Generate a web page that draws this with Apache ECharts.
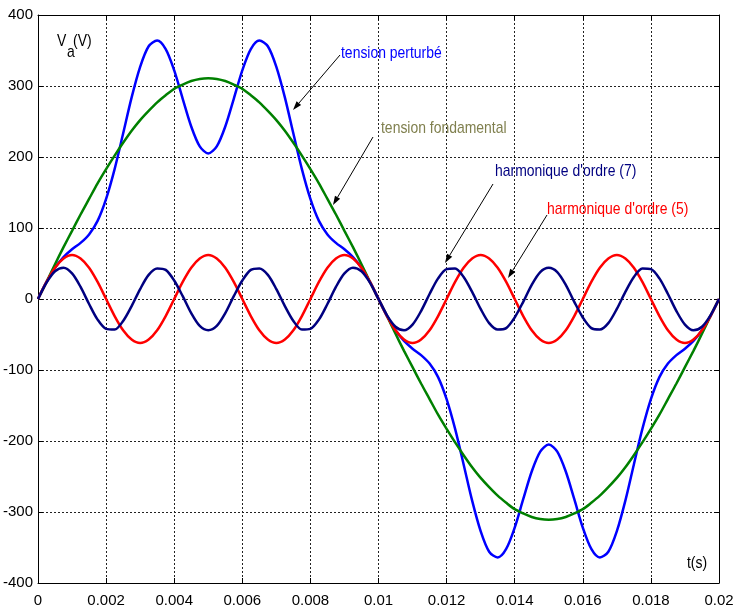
<!DOCTYPE html>
<html>
<head>
    <meta charset="utf-8">
    <title>Tension perturbée et harmoniques</title>
    <script src="https://cdn.jsdelivr.net/npm/echarts@6.0.0/dist/echarts.min.js"></script>
    <style>
        body { margin: 0; background: #fff; }
        #main { width: 733px; height: 610px; }
    </style>
</head>
<body>
    <div id="main"></div>
    <script>
        // pas d'échantillonnage (s)
        var tStep = 0.00025;

        // valeurs (V)
        var perturbed = [0, 24, 44, 59, 70, 79, 91, 110, 141, 183, 233, 284, 327, 356, 364, 352, 322, 282, 243, 215, 205,
            215, 243, 282, 322, 352, 364, 356, 327, 284, 233, 183, 141, 110, 91, 79, 70, 59, 44, 24, 0,
            -24, -44, -59, -70, -79, -91, -110, -141, -183, -233, -284, -327, -356, -364, -352, -322, -282, -243, -215, -205,
            -215, -243, -282, -322, -352, -364, -356, -327, -284, -233, -183, -141, -110, -91, -79, -70, -59, -44, -24, 0];
        var fundamental = [0, 24, 49, 73, 96, 119, 141, 163, 183, 202, 220, 237, 252, 265, 277, 287, 296, 302, 307, 310, 311,
            310, 307, 302, 296, 287, 277, 265, 252, 237, 220, 202, 183, 163, 141, 119, 96, 73, 49, 24, 0,
            -24, -49, -73, -96, -119, -141, -163, -183, -202, -220, -237, -252, -265, -277, -287, -296, -302, -307, -310, -311,
            -310, -307, -302, -296, -287, -277, -265, -252, -237, -220, -202, -183, -163, -141, -119, -96, -73, -49, -24, 0];
        var harm5 = [0, 24, 44, 57, 62, 57, 44, 24, 0, -24, -44, -57, -62, -57, -44, -24,
            0, 24, 44, 57, 62, 57, 44, 24, 0, -24, -44, -57, -62, -57, -44, -24,
            0, 24, 44, 57, 62, 57, 44, 24, 0, -24, -44, -57, -62, -57, -44, -24,
            0, 24, 44, 57, 62, 57, 44, 24, 0, -24, -44, -57, -62, -57, -44, -24,
            0, 24, 44, 57, 62, 57, 44, 24, 0, -24, -44, -57, -62, -57, -44, -24, 0];
        var harm7 = [0, 23, 39, 44, 36, 17, -7, -29, -42, -43, -31, -10, 14, 34, 43, 41, 26, 4, -20, -38, -44,
            -38, -20, 4, 26, 41, 43, 34, 14, -10, -31, -43, -42, -29, -7, 17, 36, 44, 39, 23, 0,
            -23, -39, -44, -36, -17, 7, 29, 42, 43, 31, 10, -14, -34, -43, -41, -26, -4, 20, 38, 44,
            38, 20, -4, -26, -41, -43, -34, -14, 10, 31, 43, 42, 29, 7, -17, -36, -44, -39, -23, 0];

        var xTickLabels = ['0', '0.002', '0.004', '0.006', '0.008', '0.01', '0.012', '0.014', '0.016', '0.018', '0.02'];

        var FONT = "'Liberation Sans', Arial, sans-serif";

        function toPairs(values) {
            return values.map(function (v, i) { return [i * tStep, v]; });
        }

        function arrow(x1, y1, x2, y2) {
            // ligne + pointe pleine (style matlab)
            var ang = Math.atan2(y2 - y1, x2 - x1);
            var len = 9, half = 3;
            var bx = x2 - len * Math.cos(ang), by = y2 - len * Math.sin(ang);
            var px = -Math.sin(ang) * half, py = Math.cos(ang) * half;
            return [
                { type: 'line', shape: { x1: x1, y1: y1, x2: bx, y2: by }, style: { stroke: '#000', lineWidth: 1 }, z: 100 },
                { type: 'polygon', shape: { points: [[x2, y2], [bx + px, by + py], [bx - px, by - py]] }, style: { fill: '#000' }, z: 100 }
            ];
        }

        // texte étroit comme dans la figure d'origine
        function label(text, x, y, color) {
            return { type: 'text', x: x, y: y, z: 100, scaleX: 0.82,
                style: { text: text, fill: color, font: '17px ' + FONT, verticalAlign: 'middle' } };
        }

        var chart = echarts.init(document.getElementById('main'));

        var gridLine = { show: true, lineStyle: { color: '#222', type: [2, 2], width: 1 } };
        var border = { show: true, onZero: false, lineStyle: { color: '#000', width: 1 } };
        var tick = { show: true, inside: true, length: 5, lineStyle: { color: '#000' } };

        var option = {
            animation: false,
            grid: { left: 38, right: 14, top: 15, bottom: 27, outerBoundsMode: 'none' },
            xAxis: [{
                type: 'value', min: 0, max: 0.02, interval: 0.002,
                axisLine: border, axisTick: tick, splitLine: gridLine,
                axisLabel: {
                    color: '#000', fontSize: 15, fontFamily: FONT, margin: 10,
                    formatter: function (v) { return xTickLabels[Math.round(v / 0.002)]; }
                }
            }, {
                type: 'value', min: 0, max: 0.02, interval: 0.002, position: 'top',
                axisLine: border, axisTick: tick,
                splitLine: { show: false }, axisLabel: { show: false }
            }],
            yAxis: [{
                type: 'value', min: -400, max: 400, interval: 100,
                axisLine: border, axisTick: tick, splitLine: gridLine,
                axisLabel: { color: '#000', fontSize: 15, fontFamily: FONT, margin: 5 }
            }, {
                type: 'value', min: -400, max: 400, interval: 100, position: 'right',
                axisLine: border, axisTick: tick,
                splitLine: { show: false }, axisLabel: { show: false }
            }],
            series: [
                { name: 'tension perturbé', type: 'line', data: toPairs(perturbed), smooth: 0.3, showSymbol: false,
                  lineStyle: { color: '#0000ff', width: 2.5 } },
                { name: 'tension fondamental', type: 'line', data: toPairs(fundamental), smooth: 0.3, showSymbol: false,
                  lineStyle: { color: '#008000', width: 2.5 } },
                { name: 'harmonique d\'ordre (5)', type: 'line', data: toPairs(harm5), smooth: 0.3, showSymbol: false,
                  lineStyle: { color: '#ff0000', width: 2.5 } },
                { name: 'harmonique d\'ordre (7)', type: 'line', data: toPairs(harm7), smooth: 0.3, showSymbol: false,
                  lineStyle: { color: '#000080', width: 2.5 } }
            ],
            graphic: [
                label('tension perturbé', 341, 53, '#0000ff'),
                label('tension fondamental', 381, 128, '#80804f'),
                label('harmonique d\'ordre (7)', 495, 171, '#000080'),
                label('harmonique d\'ordre (5)', 547, 209, '#ff0000'),
                label('V', 57, 41, '#000'),
                label('a', 67, 52, '#000'),
                label('(V)', 73, 41, '#000'),
                label('t(s)', 687, 563, '#000')
            ].concat(arrow(340, 55, 293, 110))
             .concat(arrow(373, 137, 333, 205))
             .concat(arrow(493, 184, 445, 263))
             .concat(arrow(547, 215, 508, 278))
        };

        chart.setOption(option);
    </script>
</body>
</html>
